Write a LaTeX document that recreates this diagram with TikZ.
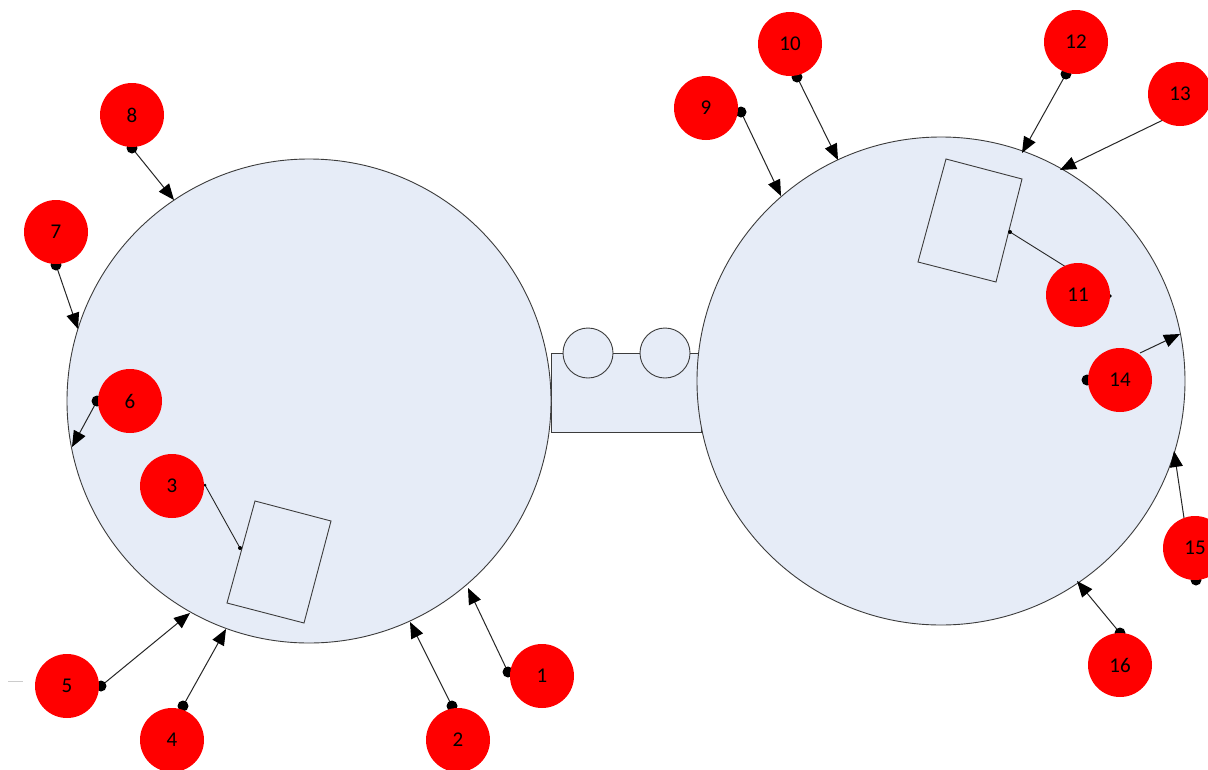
\documentclass[tikz,border=0pt]{standalone}
\usepackage{fontspec}
\setmainfont{Carlito}
\usetikzlibrary{arrows.meta}
\definecolor{pale}{RGB}{230,236,247}
\definecolor{edgec}{RGB}{60,60,60}
\definecolor{markred}{RGB}{255,0,0}
\tikzset{
  bigc/.style={circle, draw=edgec, fill=pale, line width=0.9pt, minimum size=#1, inner sep=0pt},
  smallc/.style={circle, draw=edgec, fill=pale, line width=0.9pt, minimum size=50pt, inner sep=0pt},
  outline/.style={draw=edgec, line width=0.9pt},
  marker/.style={circle, fill=markred, minimum size=64pt, inner sep=0pt, text=black, font=\fontsize{21}{21}\selectfont},
  conn/.style={draw=black!85, line width=1pt, -{Triangle[length=16pt,width=13pt,fill=black,color=black]}},
  plain/.style={draw=black!85, line width=0.9pt},
  bigdot/.style={fill=black},
}
\begin{document}
\begin{tikzpicture}[x=1pt,y=-1pt]
\useasboundingbox (0,0) rectangle (1208,769);
\clip (0,0) rectangle (1208,769);
\fill[white] (0,0) rectangle (1208,769);
% faint stray line
\draw[black!20, line width=1pt] (8,681) -- (23,681);
% bridge between the two circles
\draw[outline, fill=pale] (551,353) rectangle (701,432);
\node[bigc=484pt] (L) at (309,401) {};
\node[bigc=488pt] (R) at (941,381) {};
\node[smallc] (s1) at (588,353) {};
\node[smallc] (s2) at (665,353) {};
% rotated boxes
\draw[outline] (255,501) -- (331,521) -- (304,623) -- (227,603) -- cycle;
\draw[outline] (946,159) -- (1022,179) -- (996,282) -- (918,262) -- cycle;
% connector end points
\coordinate (d1) at (508,672);  \coordinate (t1) at (468,588);
\coordinate (d2) at (452,706);  \coordinate (t2) at (410,622);
\coordinate (d3) at (205,485);  \coordinate (t3) at (240,548);
\coordinate (d4) at (183,706);  \coordinate (t4) at (226,629);
\coordinate (d5) at (101,686);  \coordinate (t5) at (190,613);
\coordinate (d6) at (97,401);   \coordinate (t6) at (72,447);
\coordinate (d7) at (56,265);   \coordinate (t7) at (78,329);
\coordinate (d8) at (132,148);  \coordinate (t8) at (174,200);
\coordinate (d9) at (741,112);  \coordinate (t9) at (781,196);
\coordinate (d10) at (797,77);  \coordinate (t10) at (838,160);
\coordinate (d11) at (1066,267); \coordinate (t11) at (1010,232);
\coordinate (e11) at (1110,296);
\coordinate (d12) at (1066,74); \coordinate (t12) at (1022,153);
\coordinate (d13) at (1163,120); \coordinate (t13) at (1060,170);
\coordinate (d14) at (1087,380); \coordinate (s14) at (1140,353); \coordinate (t14) at (1180,334);
\coordinate (s15) at (1184,518); \coordinate (t15) at (1174,451); \coordinate (d15) at (1196,580);
\coordinate (d16) at (1120,633); \coordinate (t16) at (1077,581);
% connectors with arrow tips
\foreach \i in {1,2,4,5,6,7,8,9,10,12,16}{
  \draw[conn] (d\i) -- (t\i);
  \fill[bigdot] (d\i) circle (5.5pt);
}
\draw[conn] (d13) -- (t13);
\draw[conn] (s14) -- (t14);
\fill[bigdot] (d14) circle (5.5pt);
\draw[conn] (s15) -- (t15);
\fill[bigdot] (d15) circle (5.5pt);
% plain leaders to the boxes
\draw[plain] (d3) -- (t3);
\fill[bigdot] (t3) circle (2pt);
\fill[bigdot] (d3) circle (1.5pt);
\draw[plain] (d11) -- (t11);
\fill[bigdot] (t11) circle (2pt);
\fill[bigdot] (e11) circle (1.8pt);
% markers
\node[marker] (m1) at (542,676) {1};
\node[marker] (m2) at (458,740) {2};
\node[marker] (m3) at (172,486) {3};
\node[marker] (m4) at (172,740) {4};
\node[marker] (m5) at (67,686) {5};
\node[marker] (m6) at (130,401) {6};
\node[marker] (m7) at (56,232) {7};
\node[marker] (m8) at (132,115) {8};
\node[marker] (m9) at (706,108) {9};
\node[marker] (m10) at (790,44) {10};
\node[marker] (m11) at (1078,295) {11};
\node[marker] (m12) at (1076,42) {12};
\node[marker] (m13) at (1180,94) {13};
\node[marker] (m14) at (1120,380) {14};
\node[marker] (m15) at (1195,548) {15};
\node[marker] (m16) at (1120,665) {16};
\end{tikzpicture}
\end{document}
